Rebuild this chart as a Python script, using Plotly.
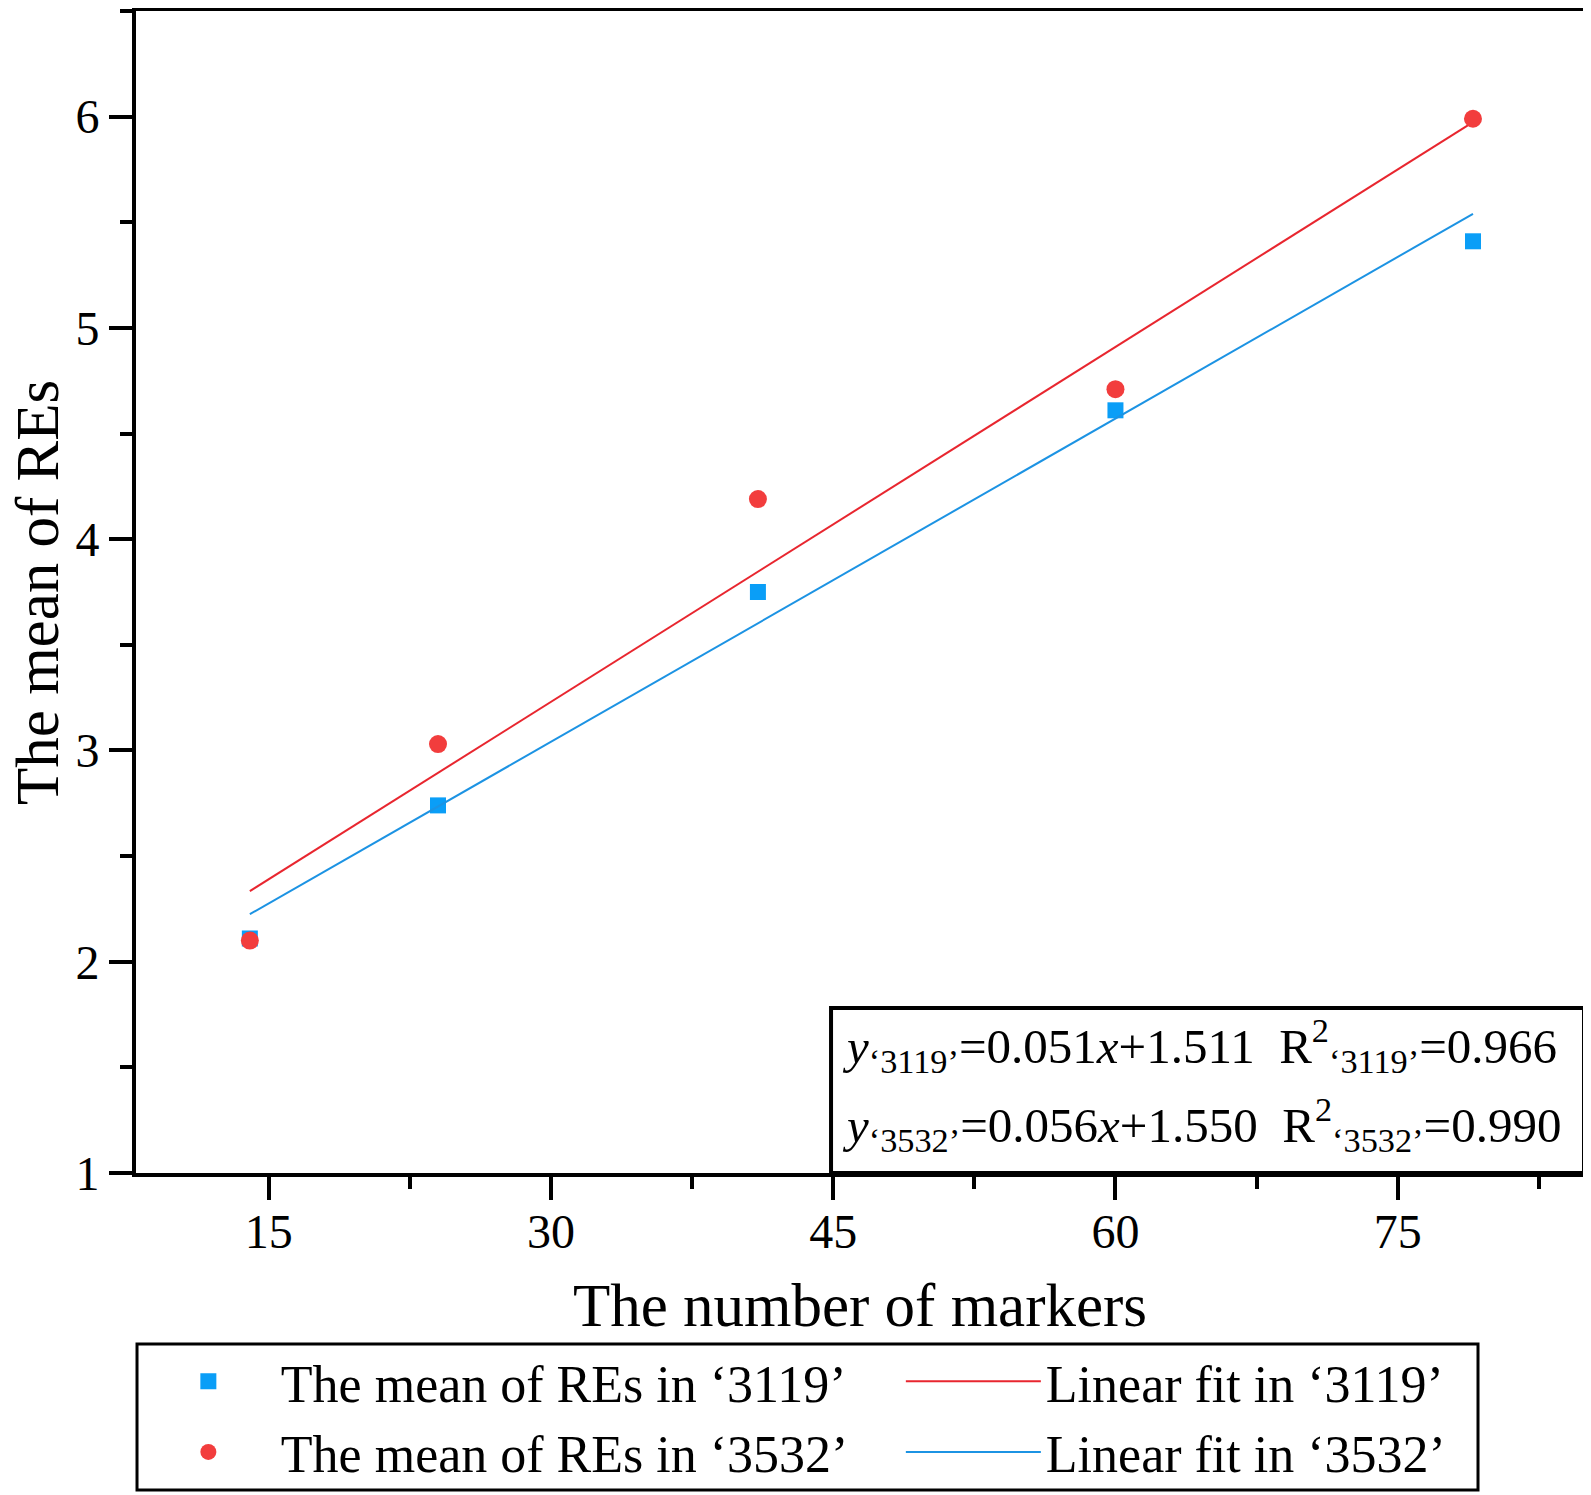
import plotly.graph_objects as go

# number of markers
markers = [14, 24, 41, 60, 79]

# mean of REs
res_3119 = [2.11, 2.74, 3.75, 4.61, 5.41]
res_3532 = [2.10, 3.03, 4.19, 4.71, 5.99]

# fitted coefficients as printed in the chart
slope_3119, icpt_3119, r2_3119 = 0.051, 1.511, 0.966
slope_3532, icpt_3532, r2_3532 = 0.056, 1.550, 0.990

fit_x = [min(markers), max(markers)]
fit_3119 = [slope_3119 * x + icpt_3119 for x in fit_x]
fit_3532 = [slope_3532 * x + icpt_3532 for x in fit_x]

FONT = "Liberation Serif, Times New Roman, serif"
BLUE = "#0A9EF7"
RED = "#F23D3D"
RED_LINE = "#E8262F"
BLUE_LINE = "#1C93E3"

fig = go.Figure()

# legend is filled row by row, so the order here gives the 2-column layout
fig.add_trace(go.Scatter(
    x=markers, y=res_3119, mode="markers", name="The mean of REs in \u20183119\u2019",
    marker=dict(symbol="square", size=16, color=BLUE), legendwidth=615,
))
# the red line is the fit of the red points, labelled as in the original
fig.add_trace(go.Scatter(
    x=fit_x, y=fit_3532, mode="lines", name="Linear fit in \u20183119\u2019",
    line=dict(color=RED_LINE, width=2), legendwidth=430,
))
fig.add_trace(go.Scatter(
    x=markers, y=res_3532, mode="markers", name="The mean of REs in \u20183532\u2019",
    marker=dict(symbol="circle", size=18, color=RED), legendwidth=615,
))
fig.add_trace(go.Scatter(
    x=fit_x, y=fit_3119, mode="lines", name="Linear fit in \u20183532\u2019",
    line=dict(color=BLUE_LINE, width=2), legendwidth=430,
))

axis_common = dict(
    showline=True, linewidth=4, linecolor="black", mirror=True,
    ticks="outside", ticklen=23, tickwidth=4, tickcolor="black",
    showgrid=False, zeroline=False, automargin=False,
    tickfont=dict(family=FONT, size=48, color="black"),
)

fig.update_xaxes(
    range=[7.95, 84.9], tick0=0, dtick=15, ticklabelstandoff=-10,
    minor=dict(ticks="outside", ticklen=12, tickwidth=4, tickcolor="black",
               dtick=7.5, tick0=0, showgrid=False),
    title=dict(text="The number of markers", font=dict(family=FONT, size=61, color="black"),
               standoff=28),
    **axis_common,
)
fig.update_yaxes(
    range=[1, 6.5], tick0=0, dtick=1,
    minor=dict(ticks="outside", ticklen=12, tickwidth=4, tickcolor="black",
               dtick=0.5, tick0=0, showgrid=False),
    **axis_common,
)

# y title as an annotation so it can sit right at the left edge
fig.add_annotation(text="The mean of REs", xref="paper", yref="paper", x=-0.0684, y=0.5,
                   xanchor="center", yanchor="middle", textangle=-90, showarrow=False,
                   font=dict(family=FONT, size=61, color="black"))

# equation box in the lower right corner
fig.add_shape(type="rect", xref="paper", yref="paper", x0=0.48, x1=1.0, y0=0, y1=0.142,
              line=dict(color="black", width=4), fillcolor="white", layer="above")

# frame around the legend, drawn as a shape so it fits inside the page
fig.add_shape(type="rect", xref="paper", yref="paper", x0=0.0007, x1=0.9268,
              y0=-0.2728, y1=-0.1472, line=dict(color="black", width=3), layer="above")

eq_font = dict(family=FONT, size=49, color="black")
sp = "\u00a0\u00a0"
eq1 = (f"<i>y</i><sub>\u20183119\u2019</sub>={slope_3119:.3f}<i>x</i>+{icpt_3119:.3f}{sp}"
       f"R<sup>2</sup><sub>\u20183119\u2019</sub>={r2_3119:.3f}")
eq2 = (f"<i>y</i><sub>\u20183532\u2019</sub>={slope_3532:.3f}<i>x</i>+{icpt_3532:.3f}{sp}"
       f"R<sup>2</sup><sub>\u20183532\u2019</sub>={r2_3532:.3f}")
fig.add_annotation(text=eq1, xref="paper", yref="paper", x=0.486, y=0.110,
                   xanchor="left", yanchor="middle", showarrow=False, font=eq_font)
fig.add_annotation(text=eq2, xref="paper", yref="paper", x=0.486, y=0.042,
                   xanchor="left", yanchor="middle", showarrow=False, font=eq_font)

# the page body adds an 8px margin, so the figure is a bit smaller than the window
fig.update_layout(
    width=1583, height=1487, autosize=False,
    margin=dict(l=128, r=7, t=3, b=322, autoexpand=False),
    plot_bgcolor="white", paper_bgcolor="white",
    font=dict(family=FONT, color="black"),
    legend=dict(
        orientation="h", x=-0.0001, xanchor="left", y=-0.1446, yanchor="top",
        borderwidth=0, bgcolor="rgba(0,0,0,0)",
        font=dict(family=FONT, size=52, color="black"),
        itemwidth=135, traceorder="normal",
    ),
)

fig.write_html("out.html")
